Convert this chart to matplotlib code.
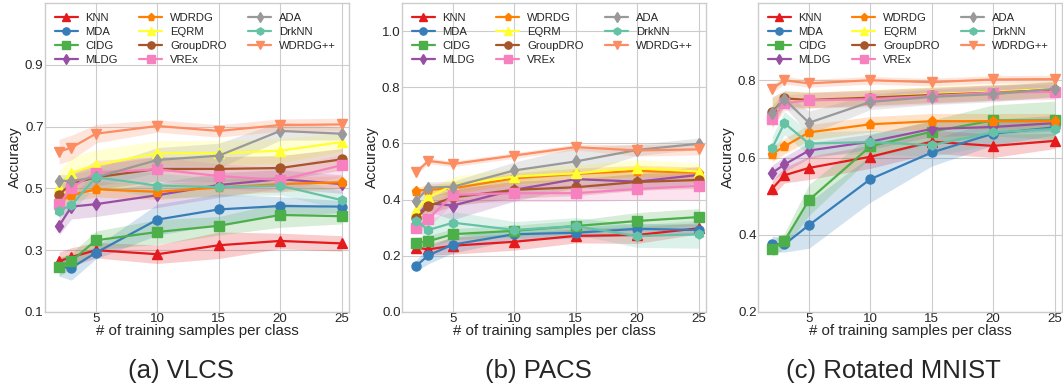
import numpy as np
import matplotlib
matplotlib.use("Agg")
import matplotlib.pyplot as plt

# x values: number of training samples per class
samples = [2, 3, 5, 10, 15, 20, 25]

methods = ["KNN", "MDA", "CIDG", "MLDG", "WDRDG", "EQRM",
           "GroupDRO", "VREx", "ADA", "DrkNN", "WDRDG++"]

# --- VLCS ---
vlcs_mean = {
    "KNN":      [0.264, 0.278, 0.300, 0.287, 0.316, 0.330, 0.322],
    "MDA":      [0.246, 0.243, 0.292, 0.399, 0.432, 0.443, 0.441],
    "CIDG":     [0.246, 0.265, 0.332, 0.359, 0.379, 0.414, 0.410],
    "MLDG":     [0.379, 0.441, 0.449, 0.478, 0.511, 0.530, 0.514],
    "WDRDG":    [0.457, 0.478, 0.497, 0.489, 0.503, 0.514, 0.520],
    "EQRM":     [0.505, 0.551, 0.575, 0.614, 0.614, 0.622, 0.650],
    "GroupDRO": [0.480, 0.515, 0.536, 0.563, 0.563, 0.566, 0.594],
    "VREx":     [0.448, 0.502, 0.551, 0.562, 0.540, 0.527, 0.575],
    "ADA":      [0.525, 0.524, 0.536, 0.592, 0.606, 0.686, 0.677],
    "DrkNN":    [0.428, 0.446, 0.536, 0.509, 0.504, 0.509, 0.462],
    "WDRDG++":  [0.619, 0.632, 0.677, 0.702, 0.686, 0.705, 0.707],
}
vlcs_std = {
    "KNN":      [0.030, 0.030, 0.025, 0.030, 0.043, 0.025, 0.025],
    "MDA":      [0.030, 0.040, 0.020, 0.050, 0.050, 0.030, 0.020],
    "CIDG":     [0.030, 0.025, 0.030, 0.040, 0.030, 0.040, 0.025],
    "MLDG":     [0.030, 0.040, 0.040, 0.040, 0.040, 0.030, 0.030],
    "WDRDG":    [0.020, 0.020, 0.025, 0.025, 0.025, 0.025, 0.020],
    "EQRM":     [0.050, 0.050, 0.050, 0.040, 0.040, 0.040, 0.030],
    "GroupDRO": [0.040, 0.040, 0.040, 0.040, 0.040, 0.040, 0.035],
    "VREx":     [0.040, 0.040, 0.040, 0.040, 0.040, 0.040, 0.035],
    "ADA":      [0.020, 0.020, 0.030, 0.040, 0.040, 0.030, 0.020],
    "DrkNN":    [0.020, 0.020, 0.030, 0.040, 0.030, 0.030, 0.030],
    "WDRDG++":  [0.040, 0.040, 0.030, 0.020, 0.020, 0.020, 0.020],
}

# --- PACS ---
pacs_mean = {
    "KNN":      [0.229, 0.223, 0.236, 0.250, 0.271, 0.274, 0.298],
    "MDA":      [0.164, 0.202, 0.240, 0.277, 0.282, 0.296, 0.292],
    "CIDG":     [0.246, 0.252, 0.277, 0.289, 0.306, 0.324, 0.338],
    "MLDG":     [0.340, 0.387, 0.379, 0.435, 0.473, 0.464, 0.488],
    "WDRDG":    [0.432, 0.435, 0.440, 0.476, 0.492, 0.502, 0.496],
    "EQRM":     [0.363, 0.408, 0.452, 0.482, 0.494, 0.512, 0.500],
    "GroupDRO": [0.333, 0.377, 0.408, 0.435, 0.444, 0.463, 0.470],
    "VREx":     [0.300, 0.331, 0.417, 0.423, 0.423, 0.438, 0.449],
    "ADA":      [0.395, 0.443, 0.446, 0.504, 0.536, 0.577, 0.599],
    "DrkNN":    [0.325, 0.292, 0.318, 0.292, 0.306, 0.270, 0.277],
    "WDRDG++":  [0.498, 0.538, 0.527, 0.557, 0.587, 0.575, 0.579],
}
pacs_std = {
    "KNN":      [0.020, 0.020, 0.030, 0.030, 0.025, 0.030, 0.020],
    "MDA":      [0.020, 0.030, 0.030, 0.020, 0.020, 0.020, 0.020],
    "CIDG":     [0.020, 0.020, 0.020, 0.020, 0.020, 0.030, 0.030],
    "MLDG":     [0.030, 0.030, 0.050, 0.040, 0.030, 0.030, 0.030],
    "WDRDG":    [0.010, 0.020, 0.020, 0.020, 0.020, 0.020, 0.020],
    "EQRM":     [0.020, 0.030, 0.030, 0.030, 0.030, 0.030, 0.030],
    "GroupDRO": [0.020, 0.030, 0.030, 0.030, 0.030, 0.030, 0.030],
    "VREx":     [0.020, 0.030, 0.030, 0.030, 0.030, 0.040, 0.050],
    "ADA":      [0.020, 0.020, 0.020, 0.030, 0.050, 0.020, 0.020],
    "DrkNN":    [0.030, 0.040, 0.040, 0.030, 0.030, 0.040, 0.050],
    "WDRDG++":  [0.010, 0.010, 0.010, 0.010, 0.010, 0.020, 0.020],
}

# --- Rotated MNIST ---
mnist_mean = {
    "KNN":      [0.519, 0.554, 0.573, 0.602, 0.641, 0.630, 0.643],
    "MDA":      [0.376, 0.375, 0.425, 0.544, 0.613, 0.662, 0.678],
    "CIDG":     [0.364, 0.384, 0.490, 0.629, 0.667, 0.696, 0.696],
    "MLDG":     [0.560, 0.582, 0.618, 0.641, 0.674, 0.679, 0.689],
    "WDRDG":    [0.609, 0.629, 0.665, 0.686, 0.694, 0.694, 0.694],
    "EQRM":     [0.712, 0.751, 0.749, 0.755, 0.764, 0.770, 0.778],
    "GroupDRO": [0.717, 0.753, 0.749, 0.755, 0.762, 0.768, 0.775],
    "VREx":     [0.700, 0.741, 0.748, 0.751, 0.759, 0.768, 0.770],
    "ADA":      [0.714, 0.751, 0.690, 0.744, 0.757, 0.764, 0.778],
    "DrkNN":    [0.624, 0.689, 0.636, 0.640, 0.632, 0.665, 0.674],
    "WDRDG++":  [0.778, 0.800, 0.792, 0.800, 0.795, 0.802, 0.803],
}
mnist_std = {
    "KNN":      [0.020, 0.020, 0.030, 0.030, 0.030, 0.030, 0.020],
    "MDA":      [0.020, 0.020, 0.060, 0.060, 0.035, 0.030, 0.020],
    "CIDG":     [0.020, 0.020, 0.040, 0.030, 0.030, 0.040, 0.050],
    "MLDG":     [0.020, 0.020, 0.020, 0.020, 0.020, 0.020, 0.020],
    "WDRDG":    [0.020, 0.020, 0.020, 0.020, 0.020, 0.020, 0.020],
    "EQRM":     [0.040, 0.020, 0.020, 0.020, 0.020, 0.020, 0.020],
    "GroupDRO": [0.040, 0.020, 0.020, 0.020, 0.020, 0.020, 0.020],
    "VREx":     [0.020, 0.020, 0.020, 0.020, 0.020, 0.020, 0.020],
    "ADA":      [0.020, 0.020, 0.030, 0.020, 0.020, 0.020, 0.020],
    "DrkNN":    [0.030, 0.030, 0.030, 0.030, 0.030, 0.030, 0.030],
    "WDRDG++":  [0.010, 0.010, 0.010, 0.010, 0.010, 0.010, 0.010],
}

colors = {
    "KNN": "#e41a1c", "MDA": "#377eb8", "CIDG": "#4daf4a", "MLDG": "#984ea3",
    "WDRDG": "#ff7f00", "EQRM": "#ffff33", "GroupDRO": "#a65628", "VREx": "#f781bf",
    "ADA": "#999999", "DrkNN": "#66c2a5", "WDRDG++": "#fc8d62",
}
markers = {
    "KNN": "^", "MDA": "o", "CIDG": "s", "MLDG": "d", "WDRDG": "p", "EQRM": "^",
    "GroupDRO": "o", "VREx": "s", "ADA": "d", "DrkNN": "h", "WDRDG++": "v",
}

panels = [
    (vlcs_mean, vlcs_std, (0.1, 1.1), [0.1, 0.3, 0.5, 0.7, 0.9], "(a) VLCS"),
    (pacs_mean, pacs_std, (0.0, 1.1), [0.0, 0.2, 0.4, 0.6, 0.8, 1.0], "(b) PACS"),
    (mnist_mean, mnist_std, (0.2, 1.0), [0.2, 0.4, 0.6, 0.8], "(c) Rotated MNIST"),
]

plt.style.use("seaborn-v0_8-whitegrid")
fig = plt.figure(figsize=(10.63, 3.89), dpi=100)
lefts = [45, 402, 758]
W, H = 1063, 389

for (mean, std, ylim, yticks, caption), left in zip(panels, lefts):
    ax = fig.add_axes([left / W, 1 - 312 / H, 304 / W, 309 / H])
    x = np.array(samples)
    for m in methods:
        mu = np.array(mean[m])
        sd = np.array(std[m])
        ax.plot(x, mu, color=colors[m], marker=markers[m], markersize=6.5,
                linewidth=1.6, label=m)
        ax.fill_between(x, mu - sd, mu + sd, color=colors[m], alpha=0.22, linewidth=0)
    ax.set_xlim(0.85, 25.6)
    ax.set_ylim(*ylim)
    ax.set_xticks([5, 10, 15, 20, 25])
    ax.set_yticks(yticks)
    ax.tick_params(labelsize=9.6, pad=1)
    ax.set_xlabel("# of training samples per class", fontsize=10.8, labelpad=-1)
    ax.set_ylabel("Accuracy", fontsize=10.8, labelpad=2)
    ax.legend(loc="upper left", ncol=3, fontsize=8.1, frameon=False,
              handlelength=2.05, handletextpad=0.7, columnspacing=1.9,
              labelspacing=0.38, borderaxespad=0.45, markerscale=0.8)
    ax.text(0.447, -0.19, caption, transform=ax.transAxes, ha="center", va="center",
            fontsize=18.5, family="Liberation Sans")

fig.savefig("out.png", dpi=100)
